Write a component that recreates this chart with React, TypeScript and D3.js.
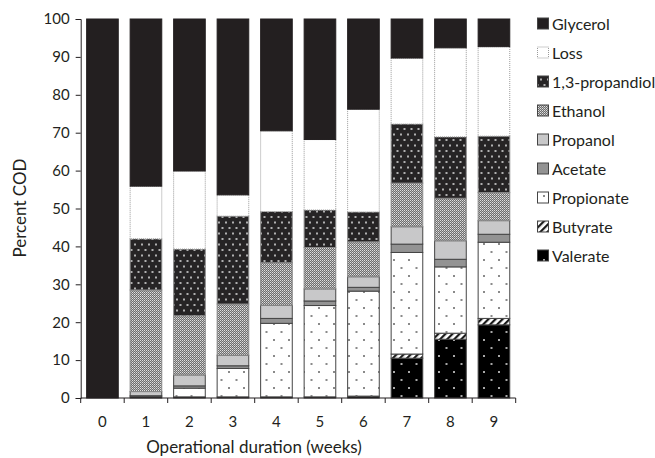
import React, { useEffect, useRef } from "react";
import * as d3 from "d3";

const weeks = ["0", "1", "2", "3", "4", "5", "6", "7", "8", "9"];
const yTicks = [0, 10, 20, 30, 40, 50, 60, 70, 80, 90, 100];

// segment sizes, bottom to top
const valerate = [0, 0.3, 0.3, 0.3, 0.3, 0.3, 0.5, 10.5, 15.5, 19.3];
const butyrate = [0, 0, 0, 0, 0, 0, 0, 1.1, 1.6, 1.7];
const propionate = [0, 0, 2.3, 7.5, 19.4, 24.1, 27.7, 26.8, 17.5, 20.1];
const acetate = [0, 0.3, 0.6, 0.7, 1.3, 1.2, 1.0, 2.2, 2.0, 2.1];
const propanol = [0, 1.1, 2.9, 2.8, 3.5, 3.2, 2.8, 4.6, 4.9, 3.6];
const ethanol = [0, 26.8, 15.6, 13.5, 11.2, 10.9, 9.2, 11.5, 11.2, 7.4];
const propandiol = [0, 13.5, 17.6, 23.2, 13.5, 9.9, 7.9, 15.6, 16.2, 14.9];
const loss = [0, 13.9, 20.6, 5.6, 21.3, 18.6, 27.1, 17.4, 23.5, 23.6];
const glycerol = [100, 44.1, 40.1, 46.4, 29.5, 31.8, 23.8, 10.3, 7.6, 7.3];

const stackKeys = [
  "Valerate",
  "Butyrate",
  "Propionate",
  "Acetate",
  "Propanol",
  "Ethanol",
  "1,3-propandiol",
  "Loss",
  "Glycerol",
];
const legendOrder = [...stackKeys].reverse();

const fills: Record<string, string> = {
  Glycerol: "#231f20",
  Loss: "#ffffff",
  "1,3-propandiol": "url(#pDiol)",
  Ethanol: "url(#pEth)",
  Propanol: "#c8c8c9",
  Acetate: "#939393",
  Propionate: "url(#pProp)",
  Butyrate: "url(#pBut)",
  Valerate: "url(#pVal)",
};

export default function App() {
  const ref = useRef<SVGSVGElement>(null);

  useEffect(() => {
    document.body.style.margin = "0";
    const width = 655;
    const height = 458;
    const left = 80.7;
    const right = 515.7;
    const top = 19;
    const bottom = 398;
    const font = "Lato, 'Open Sans', sans-serif";

    const svg = d3.select(ref.current);
    svg.selectAll("*").remove();
    svg.attr("width", width).attr("height", height).style("display", "block");

    // patterns
    const defs = svg.append("defs");
    const diol = defs
      .append("pattern")
      .attr("id", "pDiol")
      .attr("patternUnits", "userSpaceOnUse")
      .attr("width", 7)
      .attr("height", 11);
    diol.append("rect").attr("width", 7).attr("height", 11).attr("fill", "#262425");
    diol.append("rect").attr("x", 1).attr("y", 1.5).attr("width", 2).attr("height", 2).attr("fill", "#b0b0b0");
    diol.append("rect").attr("x", 4.5).attr("y", 7).attr("width", 2).attr("height", 2).attr("fill", "#b0b0b0");

    const eth = defs
      .append("pattern")
      .attr("id", "pEth")
      .attr("patternUnits", "userSpaceOnUse")
      .attr("width", 2)
      .attr("height", 2);
    eth.append("rect").attr("width", 2).attr("height", 2).attr("fill", "#6e6e6e");
    eth.append("rect").attr("width", 1).attr("height", 1).attr("fill", "#e0e0e0");
    eth.append("rect").attr("x", 1).attr("y", 1).attr("width", 1).attr("height", 1).attr("fill", "#b4b4b4");

    const dotted = (id: string, bg: string, dot: string) => {
      const p = defs
        .append("pattern")
        .attr("id", id)
        .attr("patternUnits", "userSpaceOnUse")
        .attr("width", 15)
        .attr("height", 16);
      p.append("rect").attr("width", 15).attr("height", 16).attr("fill", bg);
      p.append("rect").attr("x", 3).attr("y", 3).attr("width", 2).attr("height", 2).attr("fill", dot);
      p.append("rect").attr("x", 10.5).attr("y", 11).attr("width", 2).attr("height", 2).attr("fill", dot);
    };
    dotted("pProp", "#ffffff", "#8a8a8a");
    dotted("pVal", "#000000", "#a8a8a8");

    const but = defs
      .append("pattern")
      .attr("id", "pBut")
      .attr("patternUnits", "userSpaceOnUse")
      .attr("width", 5)
      .attr("height", 5)
      .attr("patternTransform", "rotate(45)");
    but.append("rect").attr("width", 5).attr("height", 5).attr("fill", "#ffffff");
    but.append("rect").attr("width", 2.2).attr("height", 5).attr("fill", "#1a1a1a");

    const x = d3
      .scaleBand<string>()
      .domain(weeks)
      .range([left, right])
      .paddingInner(0.25)
      .paddingOuter(0.125);
    const y = d3.scaleLinear().domain([0, 100]).range([bottom, top]);

    const rows = weeks.map((w, i) => ({
      week: w,
      Valerate: valerate[i],
      Butyrate: butyrate[i],
      Propionate: propionate[i],
      Acetate: acetate[i],
      Propanol: propanol[i],
      Ethanol: ethanol[i],
      "1,3-propandiol": propandiol[i],
      Loss: loss[i],
      Glycerol: glycerol[i],
    }));
    const series = d3.stack<any>().keys(stackKeys)(rows);

    const strokeFor = (k: string) =>
      k === "Glycerol" ? "#231f20" : k === "Loss" ? "#9a9a9a" : k === "1,3-propandiol" || k === "Ethanol" ? "#8a8a8a" : "#444";

    series.forEach((s) => {
      svg
        .append("g")
        .selectAll("rect")
        .data(s.filter((d) => d[1] - d[0] > 0))
        .join("rect")
        .attr("x", (d) => x(d.data.week)! + 0.5)
        .attr("y", (d) => y(d[1]))
        .attr("width", x.bandwidth() - 1)
        .attr("height", (d) => y(d[0]) - y(d[1]))
        .attr("fill", fills[s.key])
        .attr("stroke", strokeFor(s.key))
        .attr("stroke-width", 1)
        .attr("stroke-dasharray", s.key === "Loss" ? "1,1" : null);
    });

    // y axis
    svg
      .append("g")
      .attr("transform", `translate(${left},0)`)
      .call(d3.axisLeft(y).tickValues(yTicks).tickSize(5).tickPadding(6))
      .call((g) => g.selectAll("text").attr("font-size", 15).attr("font-family", font).attr("fill", "#231f20"))
      .call((g) => g.selectAll("line,path").attr("stroke", "#231f20"));

    // x axis with ticks between categories
    const xg = svg.append("g");
    xg.append("line")
      .attr("x1", left)
      .attr("x2", right)
      .attr("y1", bottom)
      .attr("y2", bottom)
      .attr("stroke", "#231f20");
    xg.selectAll("line.tick")
      .data(d3.range(weeks.length + 1))
      .join("line")
      .attr("class", "tick")
      .attr("x1", (i) => left + i * x.step())
      .attr("x2", (i) => left + i * x.step())
      .attr("y1", bottom)
      .attr("y2", bottom + 5)
      .attr("stroke", "#231f20");
    xg.selectAll("text")
      .data(weeks)
      .join("text")
      .attr("x", (d) => x(d)! + x.bandwidth() / 2)
      .attr("y", 427)
      .attr("text-anchor", "middle")
      .attr("font-size", 15)
      .attr("font-family", font)
      .attr("fill", "#231f20")
      .text((d) => d);

    // axis titles
    svg
      .append("text")
      .attr("x", 254)
      .attr("y", 453)
      .attr("text-anchor", "middle")
      .attr("font-size", 17)
      .attr("font-family", font)
      .attr("fill", "#231f20")
      .text("Operational duration (weeks)");
    svg
      .append("text")
      .attr("transform", "translate(26,208) rotate(-90)")
      .attr("text-anchor", "middle")
      .attr("font-size", 17)
      .attr("font-family", font)
      .attr("fill", "#231f20")
      .text("Percent COD");

    // legend
    const lg = svg.append("g");
    legendOrder.forEach((k, i) => {
      const cy = 24 + i * 29;
      lg.append("rect")
        .attr("x", 537.5)
        .attr("y", cy - 6)
        .attr("width", 11)
        .attr("height", 11)
        .attr("fill", fills[k])
        .attr("stroke", k === "Loss" ? "#9a9a9a" : "#444")
        .attr("stroke-dasharray", k === "Loss" ? "1,1" : null);
      lg.append("text")
        .attr("x", 552)
        .attr("y", cy + 5.5)
        .attr("font-size", 16)
        .attr("font-family", font)
        .attr("fill", "#231f20")
        .text(k);
    });
  }, []);

  return <svg ref={ref} />;
}
